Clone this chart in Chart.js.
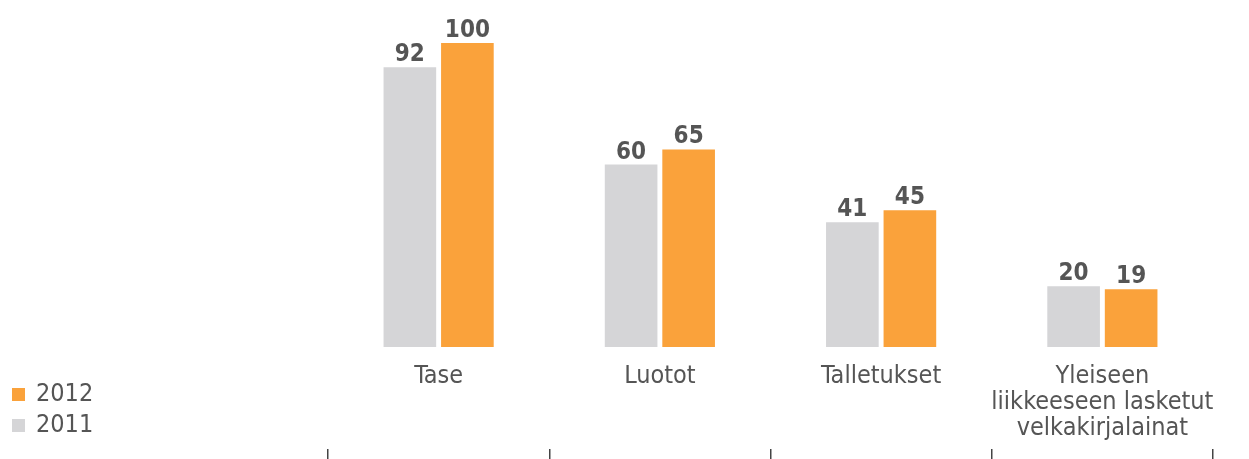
<!DOCTYPE html>
<html>
<head>
<meta charset="utf-8">
<script src="https://cdn.jsdelivr.net/npm/chart.js@4/dist/chart.umd.min.js"></script>
<style>
  html, body { margin: 0; padding: 0; background: #fff; }
  #wrap { position: relative; width: 1249px; height: 459px; }
  #legend { position: absolute; left: 12px; top: 376px; font-family: 'DejaVu Sans Condensed', 'DejaVu Sans', sans-serif; font-size: 25px; color: #555; }
  #legend .row { display: flex; align-items: flex-end; height: 31px; }
  #legend .box { width: 13px; height: 13px; margin: 0 11px 6px 0; }
</style>
</head>
<body>
<div id="wrap">
  <canvas id="bar-chart"></canvas>
  <div id="legend"></div>
</div>
<script>
const categories = ['Tase', 'Luotot', 'Talletukset', ['Yleiseen', 'liikkeeseen lasketut', 'velkakirjalainat']];
const values2011 = [92, 60, 41, 20];
const values2012 = [100, 65, 45, 19];
const seriesNames = ['2011', '2012'];

const fontFamily = "'DejaVu Sans Condensed', 'DejaVu Sans', sans-serif";
const textColor = '#555';

// numbers over each bar
const valueLabels = {
    id: 'valueLabels',
    afterDatasetsDraw(chart) {
        const ctx = chart.ctx;
        ctx.save();
        ctx.font = 'bold 24px ' + fontFamily;
        ctx.fillStyle = textColor;
        ctx.textAlign = 'center';
        ctx.textBaseline = 'alphabetic';
        chart.data.datasets.forEach((ds, i) => {
            chart.getDatasetMeta(i).data.forEach((bar, j) => {
                ctx.fillText(String(ds.data[j]), bar.x, bar.y - 6);
            });
        });
        ctx.restore();
    }
};

let ctx = document.getElementById('bar-chart').getContext('2d');
let barChart = new Chart(ctx, {
    type: 'bar',
    data: {
        labels: categories,
        datasets: [{
            label: seriesNames[0],
            data: values2011,
            backgroundColor: '#d5d5d7'
        },
        {
            label: seriesNames[1],
            data: values2012,
            backgroundColor: '#faa23b'
        }]
    },
    options: {
        responsive: true,
        maintainAspectRatio: false,
        animation: false,
        categoryPercentage: 0.52,
        barPercentage: 0.915,
        layout: { padding: { left: 328, right: 36, top: 43, bottom: 0 } },
        plugins: {
            legend: { display: false },
            tooltip: { enabled: false }
        },
        scales: {
            y: { display: false, min: 0, max: 100 },
            x: {
                weight: 0,
                grid: { display: false },
                border: { display: false },
                ticks: {
                    color: textColor,
                    padding: 8,
                    maxRotation: 0,
                    autoSkip: false,
                    font: { family: fontFamily, size: 25, lineHeight: '26px' }
                },
                afterFit: (scale) => { scale.height = 102; }
            },
            x2: {
                type: 'category',
                position: 'bottom',
                weight: 1,
                offset: true,
                grid: { offset: true, drawOnChartArea: false, drawTicks: true, tickLength: 10, color: '#444', lineWidth: 1.5 },
                border: { display: false },
                ticks: { display: false }
            }
        }
    },
    plugins: [valueLabels]
});

// legend, newest year on top
const legend = document.getElementById('legend');
barChart.data.datasets.slice().reverse().forEach(ds => {
    const row = document.createElement('div');
    row.className = 'row';
    const box = document.createElement('span');
    box.className = 'box';
    box.style.background = ds.backgroundColor;
    const txt = document.createElement('span');
    txt.textContent = ds.label;
    row.appendChild(box);
    row.appendChild(txt);
    legend.appendChild(row);
});
</script>
</body>
</html>
